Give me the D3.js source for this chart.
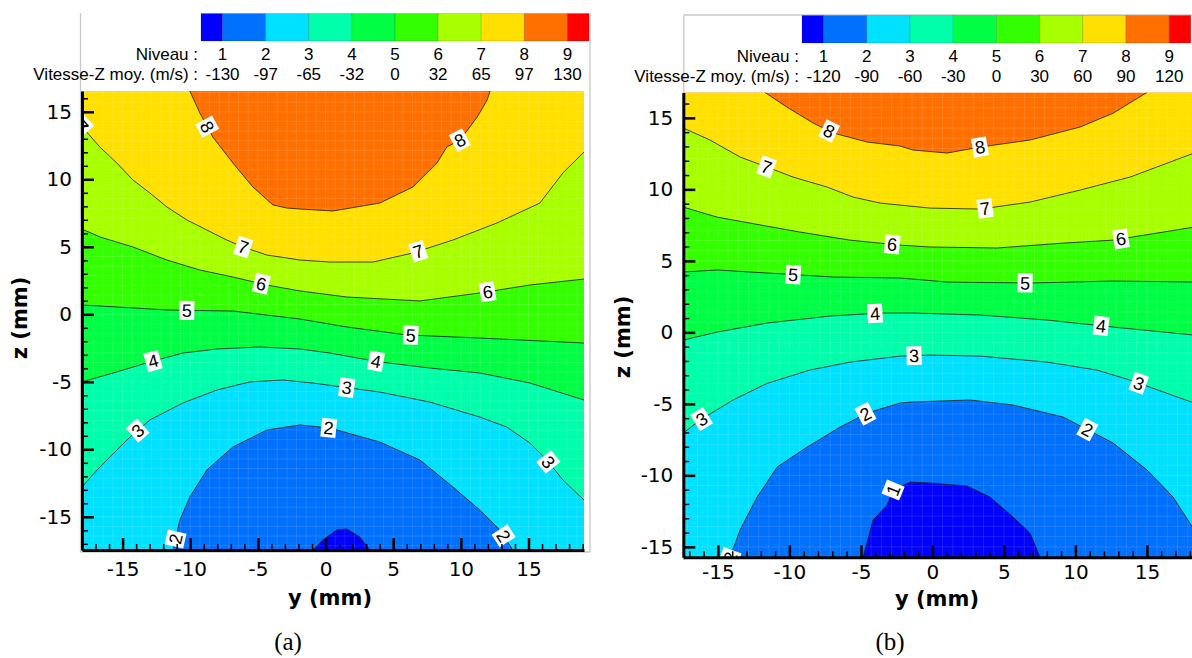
<!DOCTYPE html>
<html><head><meta charset="utf-8">
<script src="https://cdn.jsdelivr.net/npm/d3@7"></script>
<style>body{margin:0;background:#fff}svg{display:block}</style>
</head><body>
<svg id="c" width="1192" height="658"></svg>
<script>
// ---------- data ----------
const levelNumbers = [1,2,3,4,5,6,7,8,9];
const levelValuesA = [-130,-97,-65,-32,0,32,65,97,130];
const levelValuesB = [-120,-90,-60,-30,0,30,60,90,120];
const bandColors = ["#0000ff","#0070ff","#00e0ff","#00ffaa","#00ff44","#33ff00","#a8ff00","#ffe000","#ff7000","#ff0000"];
const yTicks = [-15,-10,-5,0,5,10,15];
const zTicks = [-15,-10,-5,0,5,10,15];

// panel (a) contour boundaries, [y mm, z mm]
const a1 = [[-0.94,-17.46],[-0.2,-16.72],[0.84,-15.98],[1.57,-15.91],[2.53,-16.5],[3.27,-17.46]];
const a2 = [[-11.27,-17.46],[-10.77,-15.24],[-10.03,-13.53],[-8.77,-11.53],[-6.85,-9.83],[-4.34,-8.57],[-1.9,-8.2],[0.32,-8.42],[4.01,-9.46],[6.97,-10.79],[9.41,-12.79],[11.4,-14.5],[12.88,-15.98],[13.84,-17.46]];
const a3 = [[-18,-12.79],[-16.68,-11.31],[-14.68,-9.31],[-12.99,-7.83],[-10.55,-6.57],[-8.03,-5.61],[-5.6,-5.01],[-3.16,-4.87],[-0.94,-5.09],[4.01,-5.76],[7.71,-6.5],[11.4,-7.61],[13.39,-8.35],[15.1,-9.53],[16.35,-10.79],[17.54,-12.27],[19.09,-13.76]];
const a4 = [[-18,-5.01],[-15.43,-4.27],[-12.99,-3.53],[-10.55,-2.87],[-8.03,-2.57],[-4.86,-2.42],[-1.9,-2.57],[0.32,-2.87],[4.01,-3.53],[7.71,-3.98],[11.4,-4.35],[15.1,-5.09],[19.09,-6.35]];
const a5 = [[-18,0.69],[-14.24,0.47],[-11.73,0.32],[-6.85,0.24],[-1.9,-0.35],[1.57,-0.94],[6.0,-1.53],[11.4,-1.76],[19.09,-2.13]];
const a6 = [[-18,6.31],[-16.68,5.73],[-14.24,4.99],[-11.73,4.02],[-9.29,3.28],[-6.85,2.76],[-4.34,2.17],[-1.9,1.73],[1.57,1.28],[6.97,0.99],[11.4,1.58],[15.1,2.17],[19.09,2.61]];
const a7 = [[-18,13.9],[-16.68,12.39],[-15.43,11.21],[-14.24,9.95],[-12.99,8.99],[-11.73,7.95],[-10.25,6.99],[-8.77,6.24],[-7.3,5.5],[-6.11,4.99],[-4.34,4.39],[-2.86,4.17],[-1.9,4.02],[0.32,3.87],[3.5,3.87],[6.45,4.54],[9.41,5.5],[12.66,6.76],[15.84,8.24],[17.54,10.47],[19.09,12.02]];
const a8 = [[-10.03,16.54],[-9.29,14.91],[-8.33,13.13],[-6.85,11.21],[-5.37,9.43],[-3.89,8.1],[-2.86,7.87],[-1.9,7.8],[0.54,7.65],[4.01,8.24],[6.45,9.43],[8.23,11.21],[8.96,12.39],[9.94,12.91],[11.2,14.6],[11.94,15.87],[12.16,16.54]];
// contour labels (a): [level, y, z]
const aLabels = [[8,-8.92,13.8],[8,9.92,12.91],[7,-17.9,14.6],[7,-6.11,4.91],[7,6.82,4.76],[6,-4.78,2.1],[6,12.0,1.5],[5,-10.25,0.39],[5,6.3,-1.61],[4,-12.69,-3.68],[4,3.72,-3.53],[3,-13.73,-8.79],[3,1.57,-5.39],[3,16.2,-11.16],[2,0.24,-8.35],[2,13.25,-16.35],[2,-11.06,-16.65]];

// panel (b) contour boundaries
const b1 = [[-4.85,-15.73],[-4.15,-13.13],[-3.17,-12.08],[-2.75,-11.03],[-1.57,-10.47],[-0.16,-10.54],[2.43,-10.75],[4.03,-11.52],[5.64,-12.92],[6.83,-14.04],[7.53,-15.73]];
const b2 = [[-14.15,-15.73],[-13.45,-13.82],[-12.26,-11.52],[-10.86,-9.42],[-8.76,-8.02],[-6.45,-6.62],[-4.57,-5.64],[-2.26,-4.94],[-1.36,-4.87],[2.63,-4.73],[5.64,-5.08],[9.14,-5.92],[12.64,-7.74],[15.01,-9.63],[16.83,-11.52],[18.3,-13.8]];
const b3 = [[-17.43,-7.04],[-16.24,-6.13],[-13.94,-4.73],[-11.57,-3.57],[-8.55,-2.63],[-5.76,-2.08],[-2.26,-1.66],[-0.16,-1.59],[3.34,-1.66],[8.02,-2.08],[11.52,-2.64],[13.83,-3.34],[18.3,-4.94]];
const b4 = [[-17.43,-0.54],[-15.06,0.02],[-11.57,0.65],[-7.16,1.14],[-3.66,1.35],[-1.36,1.35],[3.34,1.21],[8.02,0.86],[12.64,0.37],[18.3,-0.19]];
const b5 = [[-17.43,4.22],[-15.06,4.36],[-11.57,4.15],[-6.94,3.87],[-2.26,3.8],[1.03,3.52],[6.83,3.45],[12.64,3.59],[18.3,3.52]];
const b6 = [[-17.43,8.76],[-15.06,8.06],[-12.76,7.64],[-9.25,7.01],[-5.76,6.45],[-2.26,6.1],[-0.16,5.97],[4.52,5.9],[9.14,6.24],[12.64,6.45],[18.3,7.36]];
const b7 = [[-17.43,14.29],[-15.55,13.45],[-13.45,12.26],[-11.57,11.56],[-9.75,10.86],[-7.36,10.16],[-5.55,9.46],[-3.66,9.04],[-0.16,8.69],[3.34,8.62],[6.83,9.11],[10.33,9.95],[13.83,10.86],[18.3,12.54]];
const b8 = [[-11.71,16.78],[-10.17,15.75],[-8.34,14.64],[-6.94,13.94],[-4.57,13.31],[-2.26,13.03],[-1.36,12.75],[1.03,12.54],[3.34,12.96],[6.83,13.45],[10.33,14.36],[12.64,15.33],[15.01,16.78]];
const bLabels = [[8,-7.22,14.08],[8,3.34,12.89],[7,-11.63,11.49],[7,3.69,8.62],[6,-2.82,6.1],[6,13.2,6.45],[5,-9.74,3.94],[5,6.48,3.45],[4,-4.01,1.28],[4,11.8,0.51],[3,-1.28,-1.66],[3,14.46,-3.48],[3,-16.1,-6.13],[2,-4.78,-5.5],[2,10.82,-6.83],[2,-14.64,-15.64],[1,-2.75,-11.03]];

// ---------- layout ----------
const panels = [
  {id:"a", bounds:[a1,a2,a3,a4,a5,a6,a7,a8], labels:aLabels, values:levelValuesA,
   xDom:[-18,19.1], xRng:[82,584], zDom:[-17.46,16.54], zRng:[550,91], xPad:12,
   leg:{x0:201,x1:589,y0:13.5,y1:41,row1:60,row2:80},
   frame:[[80.5,13,80.5,552],[590,13,590,552],[80.5,552,590,552]],
   zTitle:[27,318], yTitle:[330,605], cap:[288,650,"(a)"]},
  {id:"b", bounds:[b1,b2,b3,b4,b5,b6,b7,b8], labels:bLabels, values:levelValuesB,
   xDom:[-17.42,18.3], xRng:[683.3,1194.1], zDom:[-15.73,16.78], zRng:[557.3,92.4], xPad:8,
   leg:{x0:802,x1:1190.8,y0:15.5,y1:43,row1:62,row2:82},
   frame:[[683.8,15,1192,15],[683.8,15,683.8,560]],
   zTitle:[630,337], yTitle:[937,606], cap:[890,650,"(b)"]}
];

const svg = d3.select("#c");

function snapEnds(pts, x0, x1, yT, yB){
  const snap = p => {
    const d = [Math.abs(p[1]-yT), Math.abs(p[0]-x1), Math.abs(p[1]-yB), Math.abs(p[0]-x0)];
    const i = d.indexOf(Math.min(...d));
    if (i===0) return [p[0], yT];
    if (i===1) return [x1, p[1]];
    if (i===2) return [p[0], yB];
    return [x0, p[1]];
  };
  const out = pts.slice();
  out[0] = snap(out[0]); out[out.length-1] = snap(out[out.length-1]);
  return out;
}

function lowSide(pts, x0, x1, yT, yB){
  const W = x1-x0, H = yB-yT, P = 2*(W+H), e = 0.01;
  const t = p => {
    if (Math.abs(p[1]-yT)<e) return p[0]-x0;
    if (Math.abs(p[0]-x1)<e) return W + (p[1]-yT);
    if (Math.abs(p[1]-yB)<e) return W+H+(x1-p[0]);
    return 2*W+H+(yB-p[1]);
  };
  const corners = [[x1,yT,W],[x1,yB,W+H],[x0,yB,2*W+H],[x0,yT,P]];
  const tE = t(pts[pts.length-1]), tS = t(pts[0]);
  let span = tS - tE; if (span<=0) span += P;
  const extra = [];
  corners.forEach(c => [0,P,-P].forEach(off => {
    const ct = c[2]+off; if (ct>tE && ct<tE+span) extra.push([ct,c[0],c[1]]);
  }));
  extra.sort((a,b)=>a[0]-b[0]);
  return pts.concat(extra.map(d=>[d[1],d[2]]));
}

function nearest(pts, q){
  let best = {d:Infinity};
  for (let i=0;i<pts.length-1;i++){
    const [ax,ay]=pts[i],[bx,by]=pts[i+1];
    const dx=bx-ax, dy=by-ay, L=dx*dx+dy*dy;
    let u = L? ((q[0]-ax)*dx+(q[1]-ay)*dy)/L : 0; u=Math.max(0,Math.min(1,u));
    const px=ax+u*dx, py=ay+u*dy, d=Math.hypot(q[0]-px,q[1]-py);
    if (d<best.d) best={d, p:[px,py], ang:Math.atan2(dy,dx)*180/Math.PI};
  }
  let a = best.ang; if (a>90) a-=180; if (a<-90) a+=180;
  best.ang = a; return best;
}

panels.forEach(pn => {
  const x = d3.scaleLinear().domain(pn.xDom).range(pn.xRng);
  const z = d3.scaleLinear().domain(pn.zDom).range(pn.zRng);
  const [x0,x1] = pn.xRng, yT = pn.zRng[1], yB = pn.zRng[0];
  const g = svg.append("g");
  const clipId = "clip-"+pn.id;
  g.append("clipPath").attr("id",clipId).append("rect")
    .attr("x",x0).attr("y",yT).attr("width",x1-x0).attr("height",yB-yT);
  const plot = g.append("g").attr("clip-path",`url(#${clipId})`);

  // frame
  pn.frame.forEach(f => g.append("line").attr("x1",f[0]).attr("y1",f[1]).attr("x2",f[2]).attr("y2",f[3])
    .attr("stroke","#c8c8c8").attr("stroke-width",1.3));

  // fills
  plot.append("rect").attr("x",x0).attr("y",yT).attr("width",x1-x0).attr("height",yB-yT).attr("fill",bandColors[8]);
  const screen = pn.bounds.map(b => snapEnds(b.map(d=>[x(d[0]),z(d[1])]), x0,x1,yT,yB));
  for (let k=8;k>=1;k--){
    const poly = lowSide(screen[k-1], x0,x1,yT,yB);
    plot.append("path").attr("d", d3.line()(poly)+"Z").attr("fill",bandColors[k-1]);
  }
  // faint mesh
  const mesh = plot.append("g").attr("stroke","#ffffff").attr("stroke-opacity",0.13).attr("stroke-width",0.9);
  d3.range(Math.ceil(pn.xDom[0]*1.4), Math.floor(pn.xDom[1]*1.4)+1).forEach(v=>{
    mesh.append("line").attr("x1",x(v/1.4)).attr("x2",x(v/1.4)).attr("y1",yT).attr("y2",yB);
  });
  d3.range(Math.ceil(pn.zDom[0]*1.4), Math.floor(pn.zDom[1]*1.4)+1).forEach(v=>{
    mesh.append("line").attr("y1",z(v/1.4)).attr("y2",z(v/1.4)).attr("x1",x0).attr("x2",x1);
  });
  // contour lines
  screen.forEach(s => plot.append("path").attr("d",d3.line()(s)).attr("fill","none")
    .attr("stroke","#1a1a1a").attr("stroke-opacity",0.8).attr("stroke-width",1));
  // labels
  pn.labels.forEach(l => {
    const q = [x(l[1]), z(l[2])];
    const nb = nearest(screen[l[0]-1], q);
    const lg = plot.append("g").attr("transform",`translate(${nb.p[0]},${nb.p[1]}) rotate(${nb.ang})`);
    lg.append("rect").attr("x",-7.5).attr("y",-9.5).attr("width",15).attr("height",19).attr("fill","#fff");
    lg.append("text").attr("text-anchor","middle").attr("dy","0.36em")
      .attr("font-family","Liberation Sans, Arial, sans-serif").attr("font-size",18).attr("fill","#000").text(l[0]);
  });

  // axes
  const fmt = d => String(d);
  const ax = g.append("g").attr("transform",`translate(0,${yB})`);
  ax.call(d3.axisBottom(x).tickValues(d3.range(Math.ceil(pn.xDom[0]), Math.floor(pn.xDom[1])+1)).tickSize(-6).tickFormat(""));
  ax.select(".domain").remove();
  ax.selectAll("line").attr("stroke","#000").attr("stroke-width",1.5);
  const axM = g.append("g").attr("transform",`translate(0,${yB})`);
  axM.call(d3.axisBottom(x).tickValues(yTicks).tickSizeInner(-12).tickSizeOuter(0).tickPadding(pn.xPad).tickFormat(fmt));
  axM.select(".domain").attr("stroke","#000").attr("stroke-width",3);
  axM.selectAll("line").attr("stroke","#000").attr("stroke-width",2.5);
  axM.selectAll("text").attr("font-family","DejaVu Sans, sans-serif").attr("font-size",20).attr("fill","#000");

  const az = g.append("g").attr("transform",`translate(${x0},0)`);
  az.call(d3.axisLeft(z).tickValues(d3.range(Math.ceil(pn.zDom[0]), Math.floor(pn.zDom[1])+1)).tickSize(-6).tickFormat(""));
  az.select(".domain").remove();
  az.selectAll("line").attr("stroke","#000").attr("stroke-width",1.5);
  const azM = g.append("g").attr("transform",`translate(${x0},0)`);
  azM.call(d3.axisLeft(z).tickValues(zTicks).tickSizeInner(-12).tickSizeOuter(0).tickPadding(10).tickFormat(fmt));
  azM.select(".domain").attr("stroke","#000").attr("stroke-width",3);
  azM.selectAll("line").attr("stroke","#000").attr("stroke-width",2.5);
  azM.selectAll("text").attr("font-family","DejaVu Sans, sans-serif").attr("font-size",20).attr("fill","#000");

  // titles
  g.append("text").attr("transform",`translate(${pn.zTitle[0]},${pn.zTitle[1]}) rotate(-90)`)
    .attr("text-anchor","middle").attr("font-family","DejaVu Sans, sans-serif").attr("font-weight","bold")
    .attr("font-size",21).text("z (mm)");
  g.append("text").attr("x",pn.yTitle[0]).attr("y",pn.yTitle[1])
    .attr("text-anchor","middle").attr("font-family","DejaVu Sans, sans-serif").attr("font-weight","bold")
    .attr("font-size",21).text("y (mm)");
  g.append("text").attr("x",pn.cap[0]).attr("y",pn.cap[1])
    .attr("text-anchor","middle").attr("font-family","Liberation Serif, Times New Roman, serif")
    .attr("font-size",25).text(pn.cap[2]);

  // legend
  const L = pn.leg;
  const xl = d3.scaleLinear().domain([0.5,9.5]).range([L.x0,L.x1]);
  const edges = [0.5].concat(levelNumbers).concat([9.5]);
  const lgG = g.append("g");
  for (let i=0;i<edges.length-1;i++){
    lgG.append("rect").attr("x",xl(edges[i])).attr("y",L.y0).attr("width",xl(edges[i+1])-xl(edges[i]))
      .attr("height",L.y1-L.y0).attr("fill",bandColors[i]).attr("stroke","rgba(0,0,0,0.18)").attr("stroke-width",0.8);
  }
  const tf = "Liberation Sans, Arial, sans-serif";
  lgG.append("text").attr("x",L.x0-3).attr("y",L.row1).attr("text-anchor","end")
    .attr("font-family",tf).attr("font-size",17).text("Niveau :");
  lgG.append("text").attr("x",L.x0-3).attr("y",L.row2).attr("text-anchor","end")
    .attr("font-family",tf).attr("font-size",17).text("Vitesse-Z moy. (m/s) :");
  levelNumbers.forEach((n,i) => {
    lgG.append("text").attr("x",xl(n)).attr("y",L.row1).attr("text-anchor","middle")
      .attr("font-family",tf).attr("font-size",17).text(n);
    lgG.append("text").attr("x",xl(n)).attr("y",L.row2).attr("text-anchor","middle")
      .attr("font-family",tf).attr("font-size",17).text(pn.values[i]);
  });
});
</script>
</body></html>
